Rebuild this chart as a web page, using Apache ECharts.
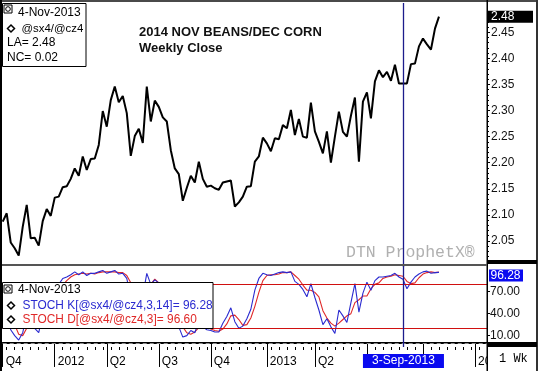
<!DOCTYPE html>
<html><head><meta charset="utf-8">
<script src="https://cdn.jsdelivr.net/npm/echarts@6/dist/echarts.min.js"></script>
<style>html,body{margin:0;padding:0;background:#fff}#c{width:538px;height:371px}</style>
</head><body><div id="c"></div>
<script>
// ---- data (weekly closes starting 3-Oct-2011) ----
const startDate = [2011, 9, 3];
const weekCount = 122; // axis span incl. empty weeks on the right
const price = [2.087,2.103,2.047,2.036,2.022,2.077,2.119,2.055,2.056,2.041,
2.088,2.111,2.098,2.133,2.135,2.153,2.155,2.169,2.189,2.175,
2.212,2.186,2.207,2.208,2.234,2.299,2.269,2.320,2.346,2.316,
2.328,2.295,2.213,2.251,2.265,2.238,2.346,2.279,2.319,2.307,
2.287,2.279,2.224,2.189,2.178,2.127,2.152,2.175,2.162,2.202,
2.169,2.154,2.156,2.151,2.148,2.162,2.164,2.166,2.116,2.124,
2.135,2.154,2.155,2.202,2.212,2.248,2.237,2.222,2.247,2.245,
2.272,2.266,2.301,2.253,2.284,2.250,2.248,2.315,2.260,2.240,
2.218,2.260,2.200,2.250,2.298,2.259,2.250,2.290,2.325,2.202,
2.317,2.335,2.285,2.356,2.377,2.364,2.374,2.357,2.388,2.352,
2.352,2.352,2.389,2.390,2.423,2.438,2.427,2.417,2.457,2.480];
const stochK = [40,45,18,10,4,14,38,24,20,14,
38,55,50,70,80,88,90,93,97,93,
97,92,95,95,97,99,95,97,99,94,
95,88,62,68,72,64,95,80,86,82,
75,72,52,33,22,8,10,17,14,30,
22,18,17,15,15,27,36,48,29,20,
23,33,46,72,88,95,93,92,94,96,
97,96,97,84,80,73,63,81,62,45,
25,33,22,13,45,37,28,55,81,42,
68,83,72,85,90,90,91,92,95,90,
87,74,83,90,94,97,98,95,96,96.28];
const stochD = [45,42,35,25,12,10,20,27,30,22,
25,37,48,58,66,79,85,90,93,94,
95,94,95,94,96,97,97,97,97,96,
96,92,82,74,69,69,77,80,87,82,
81,76,67,54,38,22,14,12,15,21,
22,23,19,17,16,19,26,37,38,32,
24,25,34,50,69,85,92,93,93,94,
96,96,97,92,87,79,72,72,69,63,
44,34,27,23,27,32,37,40,55,59,
64,64,74,80,82,88,90,91,93,92,
91,84,81,82,89,94,96,97,96,96.6];
const priceTicks = [2.05,2.10,2.15,2.20,2.25,2.30,2.35,2.40,2.45];
const stochTicks = [10,40,70];
const stochBands = [80,20];
const markerIndex = 100;           // week of 3-Sep-2013
const markerLabel = '3-Sep-2013';
const lastLabel = '4-Nov-2013';
const titleLines = ['2014 NOV BEANS/DEC CORN','Weekly Close'];

// ---- categories ----
const MON = ['Jan','Feb','Mar','Apr','May','Jun','Jul','Aug','Sep','Oct','Nov','Dec'];
const dates = [], cats = [];
const t0 = Date.UTC(startDate[0], startDate[1], startDate[2]);
for (let i = 0; i < weekCount; i++) {
  const d = new Date(t0 + i * 7 * 864e5);
  dates.push(d);
  cats.push(d.getUTCDate() + '-' + MON[d.getUTCMonth()] + '-' + d.getUTCFullYear());
}
function isQStart(i) {
  const m = dates[i].getUTCMonth();
  if (i === 0) return true;
  return m % 3 === 0 && dates[i - 1].getUTCMonth() !== m;
}
function qLabel(i) {
  const m = dates[i].getUTCMonth();
  return m === 0 ? String(dates[i].getUTCFullYear()) : 'Q' + (m / 3 + 1);
}

const FONT = 'Arial, "Liberation Sans", sans-serif';
const NAVY = '#1c1c8c';
const chart = echarts.init(document.getElementById('c'), null, {renderer: 'canvas'});

const option = {
  animation: false,
  backgroundColor: '#fff',
  grid: [
    {left: 2.7, right: 51, top: 3, bottom: 104},
    {left: 2.7, right: 51, top: 266, bottom: 24}
  ],
  xAxis: [
    {type: 'category', gridIndex: 0, data: cats, boundaryGap: false,
     axisLine: {show: false}, axisTick: {show: false}, axisLabel: {show: false}, splitLine: {show: false}},
    {type: 'category', gridIndex: 1, data: cats, boundaryGap: false,
     axisLine: {show: true, lineStyle: {color: '#000', width: 2}},
     axisTick: {show: true, interval: (i) => isQStart(i), length: 24, lineStyle: {color: '#000', width: 1}},
     axisLabel: {show: true, interval: (i) => isQStart(i), formatter: (v, i) => qLabel(i),
       align: 'left', padding: [0, 0, 0, 3], margin: 9, color: '#000', fontSize: 12, fontFamily: FONT},
     splitLine: {show: false}},
    {type: 'category', gridIndex: 1, data: cats, boundaryGap: false, position: 'bottom',
     axisLine: {show: false},
     axisTick: {show: true, interval: (i) => i % 2 === 1, length: 3, lineStyle: {color: '#000', width: 1}},
     axisLabel: {show: false}, splitLine: {show: false}}
  ],
  yAxis: [
    {type: 'value', gridIndex: 0, position: 'right', min: 2.0, max: 2.5062, interval: 0.05,
     axisLine: {show: false}, splitLine: {show: false},
     axisTick: {show: true, length: 3, customValues: priceTicks, lineStyle: {color: '#000'}},
     minorTick: {show: true, splitNumber: 5, length: 2, lineStyle: {color: '#000'}},
     axisLabel: {customValues: priceTicks, formatter: (v) => v.toFixed(2), margin: 4,
       color: '#111', fontSize: 12, fontFamily: FONT}},
    {type: 'value', gridIndex: 1, position: 'right', min: -5.5, max: 105,
     axisLine: {show: false}, splitLine: {show: false},
     axisTick: {show: true, length: 3, customValues: stochTicks, lineStyle: {color: '#000'}},
     axisLabel: {customValues: stochTicks, formatter: (v) => v.toFixed(2), margin: 3,
       color: '#111', fontSize: 12, fontFamily: FONT}}
  ],
  series: [
    {type: 'line', xAxisIndex: 0, yAxisIndex: 0, data: price, symbol: 'none',
     lineStyle: {color: '#000', width: 2}, z: 3,
     markLine: {silent: true, symbol: ['none', 'none'], label: {show: false},
       lineStyle: {color: NAVY, width: 1.3, type: 'solid'},
       data: [{xAxis: cats[markerIndex]}]}},
    {type: 'line', xAxisIndex: 1, yAxisIndex: 1, data: stochD, symbol: 'none',
     lineStyle: {color: '#e02828', width: 1.1}, z: 3,
     markLine: {silent: true, symbol: ['none', 'none'], label: {show: false},
       lineStyle: {color: '#d01010', width: 1, type: 'solid'},
       data: stochBands.map(v => ({yAxis: v})).concat([
         {yAxis: 0, lineStyle: {color: '#8c8c8c', width: 1, type: [4, 3]}},
         {xAxis: cats[markerIndex], lineStyle: {color: NAVY, width: 1.3, type: 'solid'}}
       ])}},
    {type: 'line', xAxisIndex: 1, yAxisIndex: 1, data: stochK, symbol: 'none',
     lineStyle: {color: '#2a2ad0', width: 1.1}, z: 4}
  ]
};
chart.setOption(option);

// ---- overlay graphics positioned through the chart's scales ----
const lastPriceY = chart.convertToPixel({yAxisIndex: 0}, price[price.length - 1]);
let lastKY = chart.convertToPixel({yAxisIndex: 1}, stochK[stochK.length - 1]);
lastKY = Math.max(lastKY, 275.5);
const markerX = chart.convertToPixel({xAxisIndex: 1}, markerIndex);

function diamond(cx, cy) {
  return {type: 'polygon', shape: {points: [[cx - 3.5, cy], [cx, cy - 3.5], [cx + 3.5, cy], [cx, cy + 3.5]]},
    style: {fill: '#fff', stroke: '#000', lineWidth: 1.5}};
}
function icon(x, y) {
  return [
    {type: 'rect', shape: {x: x, y: y, width: 8, height: 8}, style: {fill: '#fff', stroke: '#000', lineWidth: 1}},
    {type: 'circle', shape: {cx: x + 4, cy: y + 4, r: 2.3}, style: {fill: 'none', stroke: '#000', lineWidth: 1}}
  ];
}
const txt = (x, y, text, color, extra, size) => Object.assign({type: 'text', x: x, y: y,
  style: {text: text, fill: color || '#000', font: (size || 12) + 'px ' + FONT, textVerticalAlign: 'middle'}}, extra || {});

const g = [
  // watermark
  {type: 'text', x: 346, y: 253, z: 1, style: {text: 'DTN ProphetX\u00ae', fill: '#b0b0b0',
    font: '16.5px "Liberation Mono", "DejaVu Sans Mono", monospace', textVerticalAlign: 'middle'}},
  // title
  {type: 'text', x: 139, y: 32, style: {text: titleLines[0], fill: '#111', font: 'bold 13px ' + FONT, textVerticalAlign: 'middle'}},
  {type: 'text', x: 139, y: 48, style: {text: titleLines[1], fill: '#111', font: 'bold 13px ' + FONT, textVerticalAlign: 'middle'}},
  // frame lines
  {type: 'rect', z: 50, shape: {x: 0, y: 0, width: 538, height: 2}, style: {fill: '#4a4a4a'}},
  {type: 'rect', z: 50, shape: {x: 0, y: 0, width: 2, height: 371}, style: {fill: '#000'}},
  {type: 'rect', z: 50, shape: {x: 486.5, y: 0, width: 1.5, height: 371}, style: {fill: '#000'}},
  {type: 'rect', z: 50, shape: {x: 536, y: 0, width: 2, height: 371}, style: {fill: '#333'}},
  {type: 'rect', z: 50, shape: {x: 2, y: 264, width: 485, height: 2}, style: {fill: '#555'}},
  {type: 'rect', z: 50, shape: {x: 487, y: 260, width: 50, height: 4}, style: {fill: '#000'}},
  {type: 'rect', z: 50, shape: {x: 487, y: 342, width: 50, height: 5}, style: {fill: '#000'}},
  // right strip of the time axis
  {type: 'rect', z: 60, shape: {x: 488, y: 347, width: 48, height: 24}, style: {fill: '#fff'}},
  {type: 'text', z: 61, x: 499, y: 359, style: {text: '1 Wk', fill: '#000',
    font: '12px "Liberation Mono", "DejaVu Sans Mono", monospace', textVerticalAlign: 'middle'}},
  // last value boxes
  {type: 'rect', z: 70, shape: {x: 488, y: lastPriceY - 6, width: 45, height: 12}, style: {fill: '#000'}},
  txt(491, lastPriceY, price[price.length - 1].toFixed(2), '#fff', {z: 71}),
  {type: 'rect', z: 70, shape: {x: 489, y: lastKY - 6, width: 34, height: 12}, style: {fill: '#0a0af0'}},
  txt(490.5, lastKY, stochK[stochK.length - 1].toFixed(2), '#fff', {z: 71}),
  // marker date box on time axis
  {type: 'rect', z: 70, shape: {x: markerX - 40, y: 354, width: 81, height: 14}, style: {fill: '#0a0af0'}},
  {type: 'text', z: 71, x: markerX + 0.5, y: 361, style: {text: markerLabel, fill: '#fff', font: '12px ' + FONT,
    textAlign: 'center', textVerticalAlign: 'middle'}},
  // top-left legend box
  {type: 'rect', z: 80, shape: {x: 2.5, y: 3.5, width: 83.5, height: 63}, style: {fill: '#fff', stroke: '#000', lineWidth: 1}},
  ...icon(4, 5).map(e => Object.assign(e, {z: 81})),
  txt(18, 13, lastLabel, '#000', {z: 81}),
  Object.assign(diamond(11, 28.5), {z: 81}),
  txt(21.5, 29, '@sx4/@cz4', '#000', {z: 81}, 11.4),
  txt(7, 43, 'LA= ' + price[price.length - 1].toFixed(2), '#000', {z: 81}),
  txt(7, 57.5, 'NC= ' + (price[price.length - 1] - price[price.length - 2]).toFixed(2), '#000', {z: 81}),
  // stochastic legend box
  {type: 'rect', z: 80, shape: {x: 2.5, y: 282.5, width: 210.5, height: 46}, style: {fill: '#fff', stroke: '#000', lineWidth: 1}},
  ...icon(4, 285).map(e => Object.assign(e, {z: 81})),
  txt(18, 289.5, lastLabel, '#000', {z: 81}),
  Object.assign(diamond(11, 305.5), {z: 81}),
  txt(22.5, 305.5, 'STOCH K[@sx4/@cz4,3,14]= ' + stochK[stochK.length - 1].toFixed(2), '#2a2ad0', {z: 81}, 11.9),
  Object.assign(diamond(11, 319.5), {z: 81}),
  txt(22.5, 319.5, 'STOCH D[@sx4/@cz4,3]= ' + stochD[stochD.length - 1].toFixed(2), '#e02828', {z: 81}, 11.9)
];
chart.setOption({graphic: g});
</script>
</body></html>
